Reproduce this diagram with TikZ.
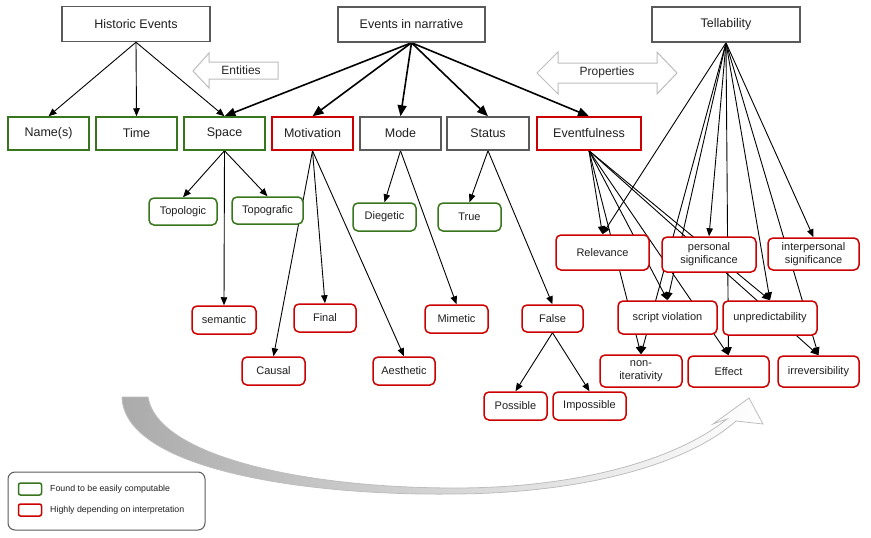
\documentclass[tikz,border=0pt]{standalone}
\usepackage{fontspec}
\setmainfont{Liberation Sans}
\usetikzlibrary{arrows.meta,backgrounds}
\definecolor{gborder}{HTML}{38761D}
\definecolor{rborder}{HTML}{CC0000}
\definecolor{kborder}{HTML}{5A5A5A}
\definecolor{lightarrow}{HTML}{BDBDBD}
\begin{document}
\begin{tikzpicture}[x=1pt,y=-1pt,
  box/.style={draw, line width=1.5pt, fill=white, inner sep=0pt, text=black!88,
    font=\fontsize{12.5}{15}\selectfont},
  topbox/.style={box, draw=kborder, minimum width=148pt, minimum height=35pt},
  rowk/.style={box, draw=kborder, minimum width=81pt, minimum height=33pt},
  rowg/.style={box, draw=gborder, minimum width=81pt, minimum height=33pt},
  rowr/.style={box, draw=rborder, minimum width=81pt, minimum height=33pt},
  leafg/.style={box, draw=gborder, rounded corners=5pt, align=center,
    font=\fontsize{11}{13}\selectfont},
  leafr/.style={box, draw=rborder, rounded corners=5pt, align=center,
    font=\fontsize{11}{13}\selectfont},
  thinedge/.style={-{Triangle[length=8pt,width=6.5pt]}, line width=0.9pt},
  thickedge/.style={-{Triangle[length=11pt,width=9pt]}, line width=1.6pt},
  hollowarrow/.style={draw=lightarrow, line width=1pt, fill=white},
  arrowlabel/.style={font=\fontsize{12}{14}\selectfont, text=black!85},
  legendtext/.style={anchor=west, inner sep=0pt, font=\fontsize{8.8}{10}\selectfont, text=black!88}
]
\useasboundingbox (0,0) rectangle (871,538);

% top boxes
\node[topbox] (hist) at (136,24) {Historic Events};
\node[topbox, minimum width=147pt] (narr) at (411.5,24.5) {Events in narrative};
\node[topbox] (tell) at (726,24.5) {Tellability};

% hollow arrows
\draw[hollowarrow] (193,71) -- (209,53) -- (209,62) -- (278,62) -- (278,79) -- (209,79) -- (209,88) -- cycle;
\node[arrowlabel] (ent) at (241,70.5) {Entities};
\draw[hollowarrow] (537,73) -- (558,52) -- (558,63) -- (657,63) -- (657,52) -- (677,73) -- (657,94) -- (657,83) -- (558,83) -- (558,94) -- cycle;
\node[arrowlabel] (prop) at (607,72) {Properties};

% row 1
\node[rowg] (name) at (48.5,133.5) {Name(s)};
\node[rowg] (time) at (136.5,133.5) {Time};
\node[rowg] (space) at (224.5,133.5) {Space};
\node[rowr] (motiv) at (312.5,133.5) {Motivation};
\node[rowk] (mode) at (400.5,133.5) {Mode};
\node[rowk, minimum width=82pt] (status) at (488,133.5) {Status};
\node[rowr, minimum width=104pt] (eventf) at (589,133.5) {Eventfulness};

% leaves
\node[leafg, minimum width=68pt, minimum height=27pt] (topol) at (183,211.5) {Topologic};
\node[leafg, minimum width=71pt, minimum height=27pt] (topog) at (267.5,210.5) {Topografic};
\node[leafr, minimum width=64pt, minimum height=28pt] (seman) at (224,320) {semantic};
\node[leafr, minimum width=63pt, minimum height=28pt] (causal) at (273.5,371) {Causal};
\node[leafr, minimum width=62pt, minimum height=28pt] (final) at (325,318) {Final};
\node[leafr, minimum width=62pt, minimum height=28pt] (aesth) at (404,371) {Aesthetic};
\node[leafg, minimum width=63pt, minimum height=28pt] (dieg) at (384.5,217) {Diegetic};
\node[leafr, minimum width=63pt, minimum height=28pt] (mim) at (456.5,319) {Mimetic};
\node[leafg, minimum width=63pt, minimum height=28pt] (true) at (469.5,217) {True};
\node[leafr, minimum width=61pt, minimum height=27pt] (false) at (552.5,318.5) {False};
\node[leafr, minimum width=63pt, minimum height=28pt] (poss) at (515.5,406) {Possible};
\node[leafr, minimum width=73pt, minimum height=28pt] (imposs) at (589.5,406) {Impossible};

\node[leafr, minimum width=93pt, minimum height=35pt] (relev) at (602.5,252.5) {Relevance};
\node[leafr, minimum width=94pt, minimum height=35pt] (pers) at (709,254.5) {personal\\significance};
\node[leafr, minimum width=91pt, minimum height=32pt] (inter) at (813.5,254) {interpersonal\\significance};
\node[leafr, minimum width=99pt, minimum height=33pt] (script) at (667.5,317.5) {script violation};
\node[leafr, minimum width=94pt, minimum height=34pt] (unpred) at (770,318) {unpredictability};
\node[leafr, minimum width=82pt, minimum height=32pt] (noniter) at (641,371) {non-\\iterativity};
\node[leafr, minimum width=81pt, minimum height=31pt] (effect) at (728.5,371.5) {Effect};
\node[leafr, minimum width=81pt, minimum height=31pt] (irrev) at (818.5,371.5) {irreversibility};

% legend
\node[draw=kborder, rounded corners=7pt, line width=1pt, fill=white, minimum width=197pt, minimum height=58pt, inner sep=0pt] (legend) at (106.5,501) {};
\node[draw=gborder, line width=1.5pt, rounded corners=2pt, minimum width=23pt, minimum height=12pt, inner sep=0pt] (lgbox) at (30,489) {};
\node[legendtext] (lgtext) at (50,489) {Found to be easily computable};
\node[draw=rborder, line width=1.5pt, rounded corners=2pt, minimum width=23pt, minimum height=12pt, inner sep=0pt] (lrbox) at (30,510) {};
\node[legendtext] (lrtext) at (50,510) {Highly depending on interpretation};

\begin{scope}[on background layer]
  % big curved arrow
  \path[draw=lightarrow, line width=0.8pt, left color=black!33, middle color=black!14, right color=white]
    (122,397) .. controls (124,468) and (300,496) .. (455,494)
    .. controls (590,493) and (690,462) .. (736,421)
    -- (763,424) -- (749,398) -- (713,424) -- (727,419)
    .. controls (680,457) and (585,488) .. (455,488)
    .. controls (300,488) and (157,455) .. (148,397) -- cycle;

  % historic events
  \draw[thinedge] (hist.south) -- (name.north);
  \draw[thinedge] (hist.south) -- (time.north);
  \draw[thinedge] (hist.south) -- (space.north);
  % events in narrative
  \draw[thickedge] (narr.south) -- (space.north);
  \draw[thickedge] (narr.south) -- (motiv.north);
  \draw[thickedge] (narr.south) -- (mode.north);
  \draw[thickedge] (narr.south) -- (status.north);
  \draw[thickedge] (narr.south) -- (eventf.north);
  % space
  \draw[thinedge] (space.south) -- (topol.north);
  \draw[thinedge] (space.south) -- (topog.north);
  \draw[thinedge] (space.south) -- (seman.north);
  % motivation
  \draw[thinedge] (motiv.south) -- (causal.north);
  \draw[thinedge] (motiv.south) -- (final.north);
  \draw[thinedge] (motiv.south) -- (aesth.north);
  % mode
  \draw[thinedge] (mode.south) -- (dieg.north);
  \draw[thinedge] (mode.south) -- (mim.north);
  % status
  \draw[thinedge] (status.south) -- (true.north);
  \draw[thinedge] (status.south) -- (false.north);
  % false
  \draw[thinedge] (false.south) -- (poss.north);
  \draw[thinedge] (false.south) -- (imposs.north);
  % eventfulness
  \draw[thinedge] (eventf.south) -- (relev.north);
  \draw[thinedge] (eventf.south) -- (noniter.north);
  \draw[thinedge] (eventf.south) -- (script.north);
  \draw[thinedge] (eventf.south) -- (effect.north);
  \draw[thinedge] (eventf.south) -- (unpred.north);
  \draw[thinedge] (eventf.south) -- (irrev.north);
  % tellability
  \draw[thinedge] (tell.south) -- (relev.north);
  \draw[thinedge] (tell.south) -- (noniter.north);
  \draw[thinedge] (tell.south) -- (script.north);
  \draw[thinedge] (tell.south) -- (pers.north);
  \draw[thinedge] (tell.south) -- (effect.north);
  \draw[thinedge] (tell.south) -- (unpred.north);
  \draw[thinedge] (tell.south) -- (irrev.north);
  \draw[thinedge] (tell.south) -- (inter.north);
\end{scope}
\end{tikzpicture}
\end{document}
